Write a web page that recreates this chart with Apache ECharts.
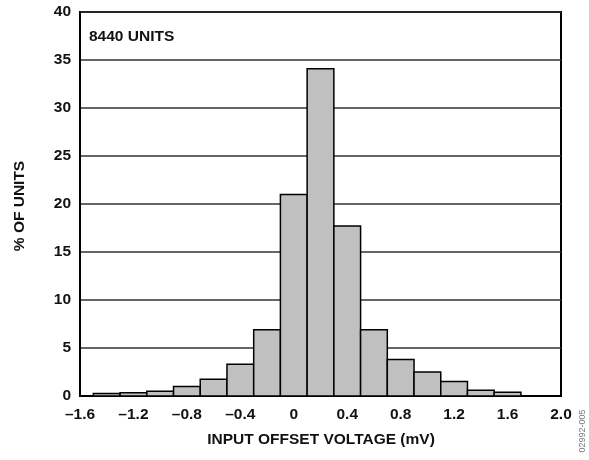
<!DOCTYPE html>
<html>
<head>
<meta charset="utf-8">
<script src="https://cdn.jsdelivr.net/npm/echarts@6/dist/echarts.min.js"></script>
<style>
html,body{margin:0;padding:0;background:#fff;}
#c{width:589px;height:460px;}
</style>
</head>
<body>
<div id="c"></div>
<script>
// Histogram bin centres (mV), bin width 0.2 mV
var binCenters = [-1.4, -1.2, -1.0, -0.8, -0.6, -0.4, -0.2, 0.0, 0.2, 0.4, 0.6, 0.8, 1.0, 1.2, 1.4, 1.6];
// % of units in each bin
var percentUnits = [0.25, 0.35, 0.5, 1.0, 1.75, 3.3, 6.9, 21.0, 34.1, 17.7, 6.9, 3.8, 2.5, 1.5, 0.6, 0.4];
var binWidth = 0.2;
var xTicks = [-1.6, -1.2, -0.8, -0.4, 0, 0.4, 0.8, 1.2, 1.6, 2.0];
var yTicks = [0, 5, 10, 15, 20, 25, 30, 35, 40];

var FONT = '"Liberation Sans", Arial, sans-serif';
var data = binCenters.map(function (c, i) { return [c, percentUnits[i]]; });

var chart = echarts.init(document.getElementById('c'), null, {renderer: 'canvas'});
chart.setOption({
  animation: false,
  backgroundColor: '#fff',
  grid: {left: 80, right: 28, top: 12, bottom: 64, show: true, borderColor: '#000', borderWidth: 2, backgroundColor: 'transparent'},
  xAxis: {
    type: 'value', min: xTicks[0], max: xTicks[xTicks.length - 1], interval: 0.4,
    axisLine: {show: true, onZero: false, lineStyle: {color: '#000', width: 2}},
    axisTick: {show: false},
    splitLine: {show: false},
    axisLabel: {
      margin: 11, color: '#111', fontFamily: FONT, fontWeight: 'bold', fontSize: 15.5,
      formatter: function (v) {
        if (Math.abs(v) < 1e-9) return '0';
        return (v < 0 ? '\u2013' : '') + Math.abs(v).toFixed(1);
      }
    }
  },
  yAxis: {
    type: 'value', min: yTicks[0], max: yTicks[yTicks.length - 1], interval: 5,
    axisLine: {show: true, onZero: false, lineStyle: {color: '#000', width: 2}},
    axisTick: {show: false},
    splitLine: {show: true, lineStyle: {color: '#333', width: 1.5}},
    axisLabel: {margin: 9, color: '#111', fontFamily: FONT, fontWeight: 'bold', fontSize: 15.5}
  },
  series: [{
    type: 'custom',
    data: data,
    encode: {x: 0, y: 1},
    renderItem: function (params, api) {
      var c = api.value(0), v = api.value(1);
      var p1 = api.coord([c - binWidth / 2, v]);
      var p2 = api.coord([c + binWidth / 2, 0]);
      return {
        type: 'rect',
        shape: {x: p1[0], y: p1[1], width: p2[0] - p1[0], height: p2[1] - p1[1]},
        style: {fill: '#c0c0c0', stroke: '#000', lineWidth: 1.5}
      };
    }
  }],
  graphic: [
    {type: 'text', left: 89, top: 29, style: {text: '8440 UNITS', fill: '#111', font: 'bold 15.5px ' + FONT}},
    {type: 'text', x: 20, y: 206, rotation: Math.PI / 2, style: {text: '% OF UNITS', fill: '#111', font: 'bold 15.5px ' + FONT, textAlign: 'center', textVerticalAlign: 'middle'}},
    {type: 'text', x: 321, y: 440, style: {text: 'INPUT OFFSET VOLTAGE (mV)', fill: '#111', font: 'bold 15.5px ' + FONT, textAlign: 'center', textVerticalAlign: 'middle'}},
    {type: 'text', x: 583, y: 431, rotation: Math.PI / 2, style: {text: '02992-005', fill: '#777', font: '9px ' + FONT, textAlign: 'center', textVerticalAlign: 'middle'}}
  ]
});
</script>
</body>
</html>
